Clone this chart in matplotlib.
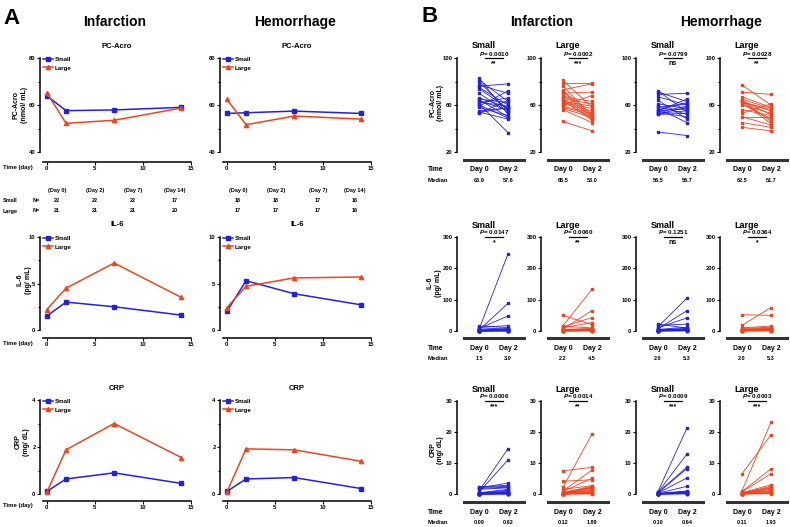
import matplotlib
matplotlib.use('Agg')
import matplotlib.pyplot as plt
import numpy as np
from matplotlib.ticker import FixedLocator

plt.rcParams['font.family'] = ['Liberation Sans', 'DejaVu Sans']
plt.rcParams['font.weight'] = 'bold'
plt.rcParams['mathtext.fontset'] = 'custom'
plt.rcParams['mathtext.it'] = 'Liberation Sans:italic:bold'
plt.rcParams['mathtext.rm'] = 'Liberation Sans:bold'

W, H = 790, 527
BLUE = '#2222dd'
RED = '#f0441e'

# ---------------- panel A: group means over time ----------------
days = [0, 2, 7, 14]
acro_inf_small = [63.9, 57.6, 57.9, 59.0]
acro_inf_large = [65.2, 52.2, 53.5, 58.7]
acro_hem_small = [56.4, 56.7, 57.4, 56.4]
acro_hem_large = [62.4, 51.6, 55.3, 54.0]
il6_inf_small = [1.5, 3.0, 2.5, 1.6]
il6_inf_large = [2.2, 4.5, 7.2, 3.5]
il6_hem_small = [2.0, 5.3, 3.9, 2.7]
il6_hem_large = [2.4, 4.7, 5.6, 5.7]
crp_inf_small = [0.11, 0.64, 0.90, 0.45]
crp_inf_large = [0.08, 1.88, 3.00, 1.55]
crp_hem_small = [0.11, 0.64, 0.70, 0.23]
crp_hem_large = [0.08, 1.92, 1.88, 1.39]

n_headers = ['(Day 0)', '(Day 2)', '(Day 7)', '(Day 14)']
n_inf_small = [22, 22, 22, 17]
n_inf_large = [21, 21, 21, 20]
n_hem_small = [18, 18, 17, 16]
n_hem_large = [17, 17, 17, 16]

# ---------------- panel B: paired day 0 / day 2 per patient ----------------
acro_inf_small_d0 = [83, 81.5, 80, 77, 76, 75, 74, 70, 66, 65, 64.5, 63.3, 62.5, 62, 61, 60, 59, 58, 55, 54, 53.5, 53]
acro_inf_small_d2 = [52, 63, 55, 70, 78, 60, 57, 54, 58, 62, 50, 56, 59, 66, 36.5, 49, 72, 51, 57.5, 48, 57.7, 64]
acro_inf_large_d0 = [81, 79, 76, 73, 72, 71, 70, 69, 67, 66, 65.5, 64, 63, 62, 61, 60, 59, 58, 57, 56, 46]
acro_inf_large_d2 = [58, 79, 51, 78, 52.3, 50, 71, 49, 63, 48, 61, 47, 59, 57, 55, 68, 53, 51.5, 49.5, 45, 38]
acro_hem_small_d0 = [72, 71, 69, 67, 64, 61, 59, 58, 57, 56, 55.5, 55, 54, 53.5, 53, 52.5, 52, 37]
acro_hem_small_d2 = [54, 63, 70, 60, 48, 57, 52, 61, 45, 62, 56.4, 65, 59, 50, 55, 58, 53, 34]
acro_hem_large_d0 = [77, 71, 67, 65, 64, 63.5, 63, 62.8, 62.5, 61, 60, 56, 53, 50, 50, 45, 41]
acro_hem_large_d2 = [60, 69, 58, 57, 46, 51.7, 44, 56, 55, 48, 53, 51, 61, 50, 43, 41, 38]

il6_inf_small_d0 = [16, 12, 10, 8, 5, 4, 3, 2.5, 2, 1.8, 1.6, 1.4, 1.2, 1, 0.9, 0.8, 0.6, 0.5, 0.4, 0.3, 0.2, 0.1]
il6_inf_small_d2 = [11, 17, 6, 48, 246, 5, 88, 4, 3.5, 3.2, 2.8, 8, 2.5, 2.2, 2, 1.8, 1.5, 1.2, 1, 0.8, 0.5, 0.3]
il6_inf_large_d0 = [50, 17, 15, 13, 10, 7, 5, 4, 3, 2.5, 2.2, 2, 1.8, 1.5, 1.2, 1, 0.8, 0.6, 0.5, 0.3, 0.2]
il6_inf_large_d2 = [20, 133, 10, 43, 27, 65, 8, 7, 6, 5, 4.5, 4, 3.5, 3, 2.5, 2, 1.5, 1.2, 1, 0.8, 0.5]
il6_hem_small_d0 = [22, 18, 14, 10, 7, 5, 4, 3, 2.2, 1.8, 1.5, 1.2, 1, 0.8, 0.6, 0.4, 0.3, 0.2]
il6_hem_small_d2 = [9, 22, 105, 42, 65, 12, 8, 7, 5.6, 5.0, 4, 3.5, 3, 2.5, 2, 1.5, 1, 0.5]
il6_hem_large_d0 = [52, 18, 10, 8, 6, 4, 3, 2.5, 2.0, 1.8, 1.5, 1.2, 1, 0.8, 0.5, 0.3, 0.2]
il6_hem_large_d2 = [50, 75, 16, 12, 10, 8, 7, 6, 5.3, 5, 4, 3, 2.5, 2, 1.5, 1, 0.5]

crp_inf_small_d0 = [2.3, 2.1, 2.0, 1.8, 1.5, 1.0, 0.6, 0.4, 0.3, 0.2, 0.1, 0.08, 0.06, 0.05, 0.04, 0.03, 0.03, 0.02, 0.02, 0.01, 0.01, 0.01]
crp_inf_small_d2 = [2.8, 2.5, 3.5, 2.2, 2.0, 14.6, 11, 1.5, 1.2, 0.9, 0.7, 0.54, 0.5, 0.4, 0.3, 0.25, 0.2, 0.15, 0.1, 0.08, 0.05, 0.03]
crp_inf_large_d0 = [7.5, 4.1, 2.2, 1.5, 1.0, 0.8, 0.5, 0.4, 0.3, 0.2, 0.12, 0.1, 0.08, 0.06, 0.05, 0.04, 0.03, 0.03, 0.02, 0.02, 0.01]
crp_inf_large_d2 = [8.6, 4.6, 19.4, 2.7, 7.7, 5.1, 2.5, 2.2, 2.1, 2.0, 1.89, 1.5, 1.2, 1.0, 0.8, 0.6, 0.4, 0.3, 0.2, 0.1, 0.05]
crp_hem_small_d0 = [0.8, 0.6, 0.5, 0.4, 0.3, 0.2, 0.15, 0.12, 0.11, 0.09, 0.08, 0.06, 0.05, 0.04, 0.03, 0.02, 0.02, 0.01]
crp_hem_small_d2 = [21.3, 12.9, 8.7, 8.2, 5.2, 2.5, 1.0, 0.8, 0.68, 0.6, 0.5, 0.4, 0.3, 0.25, 0.2, 0.15, 0.1, 0.05]
crp_hem_large_d0 = [6.5, 1.0, 0.8, 0.6, 0.4, 0.3, 0.2, 0.15, 0.11, 0.1, 0.08, 0.06, 0.05, 0.04, 0.03, 0.02, 0.01]
crp_hem_large_d2 = [19.1, 23.2, 8.1, 6.6, 3, 2.5, 2.2, 2.0, 1.93, 1.5, 1.2, 1.0, 0.8, 0.5, 0.3, 0.2, 0.1]

p_values = [['0.0010', '0.0002', '0.0799', '0.0028'],
            ['0.0147', '0.0060', '0.1251', '0.0364'],
            ['0.0006', '0.0014', '0.0009', '0.0003']]
stars = [['**', '***', 'ns', '**'],
         ['*', '**', 'ns', '*'],
         ['***', '**', '***', '***']]

fig = plt.figure(figsize=(W / 100, H / 100), dpi=100)


def fx(x):
    return x / W


def fy(y):
    return 1 - y / H


def txt(x, y, s, size=5, **kw):
    kw.setdefault('ha', 'center')
    kw.setdefault('va', 'center')
    fig.text(fx(x), fy(y), s, fontsize=size, fontweight='bold', **kw)


def add_ax(x0, x1, ytop, ybot):
    return fig.add_axes([fx(x0), fy(ybot), (x1 - x0) / W, (ybot - ytop) / H])


def style(ax, left_out, bottom_out, lw=1.0):
    for s in ['top', 'right']:
        ax.spines[s].set_visible(False)
    ax.spines['left'].set_position(('outward', left_out * 0.72))
    ax.spines['bottom'].set_position(('outward', bottom_out * 0.72))
    ax.spines['left'].set_linewidth(lw)
    ax.spines['bottom'].set_linewidth(lw)
    ax.tick_params(which='major', length=2.2, width=0.8, labelsize=4.2, pad=1)
    ax.tick_params(which='minor', length=1.5, width=0.8)
    ax.patch.set_alpha(0)


# headers
txt(11, 19, 'A', 16)
txt(115, 22, 'Infarction', 10)
txt(295, 22, 'Hemorrhage', 10)
txt(430, 17, 'B', 16)
txt(542, 22, 'Infarction', 10)
txt(721, 22, 'Hemorrhage', 10)

# ---------------- panel A ----------------
a_cols = [43, 223]
a_rows = [(58, 152, 162), (237, 330, 338), (400, 494, 501)]
a_titles = ['PC-Acro', 'IL-6', 'CRP']
a_ylabels = ['PC-Acro\n(nmol/ mL)', 'IL-6\n(pg/ mL)', 'CRP\n(mg/ dL)']
a_ylabel_pos = [(20, 105), (24, 280), (22, 442)]
a_ylims = [(40, 80), (0, 10), (0, 4)]
a_major = [[40, 60, 80], [0, 5, 10], [0, 2, 4]]
a_minor = [[50, 70], [2.5, 7.5], [1, 3]]
a_data = [[(acro_inf_small, acro_inf_large), (acro_hem_small, acro_hem_large)],
          [(il6_inf_small, il6_inf_large), (il6_hem_small, il6_hem_large)],
          [(crp_inf_small, crp_inf_large), (crp_hem_small, crp_hem_large)]]

for r, (top, bot, xline) in enumerate(a_rows):
    for c, x0 in enumerate(a_cols):
        ax = add_ax(x0, x0 + 148, top, bot)
        style(ax, 3, xline - bot, lw=1.1)
        small, large = a_data[r][c]
        ax.plot(days, small, color=BLUE, lw=1.1, marker='s', ms=2.8, clip_on=False, label='Small')
        ax.plot(days, large, color=RED, lw=1.1, marker='^', ms=3, clip_on=False, label='Large')
        ax.set_xlim(-0.4, 15)
        ax.set_ylim(*a_ylims[r])
        ax.set_xticks([0, 5, 10, 15])
        ax.yaxis.set_major_locator(FixedLocator(a_major[r]))
        ax.yaxis.set_minor_locator(FixedLocator(a_minor[r]))
        leg = ax.legend(loc='upper left', bbox_to_anchor=(-0.02, 1.04), frameon=False,
                        fontsize=4.5, handlelength=1.6, handletextpad=0.3, labelspacing=0.5,
                        borderaxespad=0)
        for t in leg.get_texts():
            t.set_fontweight('bold')
        txt(x0 + 74, top - 12, a_titles[r], 5.5)
    txt(3, xline + 5, 'Time (day)', 4.3, ha='left')
    tx, ty = a_ylabel_pos[r]
    txt(tx, ty, a_ylabels[r], 5, rotation=90, multialignment='center')

# N table
for c, (xs, ns, nl) in enumerate([([57, 95, 133, 175], n_inf_small, n_inf_large),
                                  ([238, 276, 318, 355], n_hem_small, n_hem_large)]):
    for x, h, a, b in zip(xs, n_headers, ns, nl):
        txt(x, 190, h, 4)
        txt(x, 200, str(a), 4)
        txt(x, 211, str(b), 4)
txt(3, 200, 'Small', 4, ha='left')
txt(3, 211, 'Large', 4, ha='left')
txt(33, 200, 'N=', 4, ha='left')
txt(33, 211, 'N=', 4, ha='left')

# ---------------- panel B ----------------
b_cols = [479, 563, 658, 742]
b_step = 29
b_rows = [(58, 152, 160, 170, 181), (237, 331, 338, 348, 359), (401, 494, 502, 512, 522)]
b_ylims = [(20, 100), (0, 300), (0, 30)]
b_major = [[20, 60, 100], [0, 100, 200, 300], [0, 10, 20, 30]]
b_minor = [[40, 80], [], []]
b_ylabel_pos = [(437, 103), (434, 283), (437, 450)]
b_names = ['Small', 'Large', 'Small', 'Large']
b_colors = [BLUE, RED, BLUE, RED]
b_fmt = ['%.1f', '%.1f', '%.2f']
b_data = [[(acro_inf_small_d0, acro_inf_small_d2), (acro_inf_large_d0, acro_inf_large_d2),
           (acro_hem_small_d0, acro_hem_small_d2), (acro_hem_large_d0, acro_hem_large_d2)],
          [(il6_inf_small_d0, il6_inf_small_d2), (il6_inf_large_d0, il6_inf_large_d2),
           (il6_hem_small_d0, il6_hem_small_d2), (il6_hem_large_d0, il6_hem_large_d2)],
          [(crp_inf_small_d0, crp_inf_small_d2), (crp_inf_large_d0, crp_inf_large_d2),
           (crp_hem_small_d0, crp_hem_small_d2), (crp_hem_large_d0, crp_hem_large_d2)]]

for r, (top, bot, bar, ty, my) in enumerate(b_rows):
    for c, d0 in enumerate(b_cols):
        d2 = d0 + b_step
        ax = add_ax(d0 - 15, d0 + 45, top, bot)
        style(ax, 7, bar - bot, lw=1.1)
        ax.spines['bottom'].set_linewidth(2.2)
        ax.spines['bottom'].set_color('#333333')
        ax.set_xticks([])
        v0, v2 = b_data[r][c]
        for a, b in zip(v0, v2):
            ax.plot([0, 1], [a, b], color=b_colors[c], lw=0.6, marker='s', ms=1.6,
                    clip_on=False)
        ax.set_xlim(-15 / b_step, 45 / b_step)
        ax.set_ylim(*b_ylims[r])
        ax.yaxis.set_major_locator(FixedLocator(b_major[r]))
        ax.yaxis.set_minor_locator(FixedLocator(b_minor[r]))
        # title, p value, significance
        txt(d0 + 4.5, top - 12, b_names[c], 6.5)
        txt(d0 + 15, top - 4.5, '$P$= ' + p_values[r][c], 4.5)
        fig.add_artist(plt.Line2D([fx(d0 + 6), fx(d2 - 5)], [fy(top), fy(top)],
                                  color='black', lw=0.9))
        txt(d0 + 15, top + 5.5, stars[r][c], 5)
        # day labels and medians
        txt(d0, ty, 'Day 0', 5)
        txt(d2, ty, 'Day 2', 5)
        txt(d0, my, b_fmt[r] % np.median(v0), 4)
        txt(d2, my, b_fmt[r] % np.median(v2), 4)
    txt(428, ty, 'Time', 4.8, ha='left')
    txt(428, my, 'Median', 4.3, ha='left')
    lx, lyy = b_ylabel_pos[r]
    txt(lx, lyy, a_ylabels[r], 5, rotation=90, multialignment='center')

fig.savefig('out.png', dpi=100)
